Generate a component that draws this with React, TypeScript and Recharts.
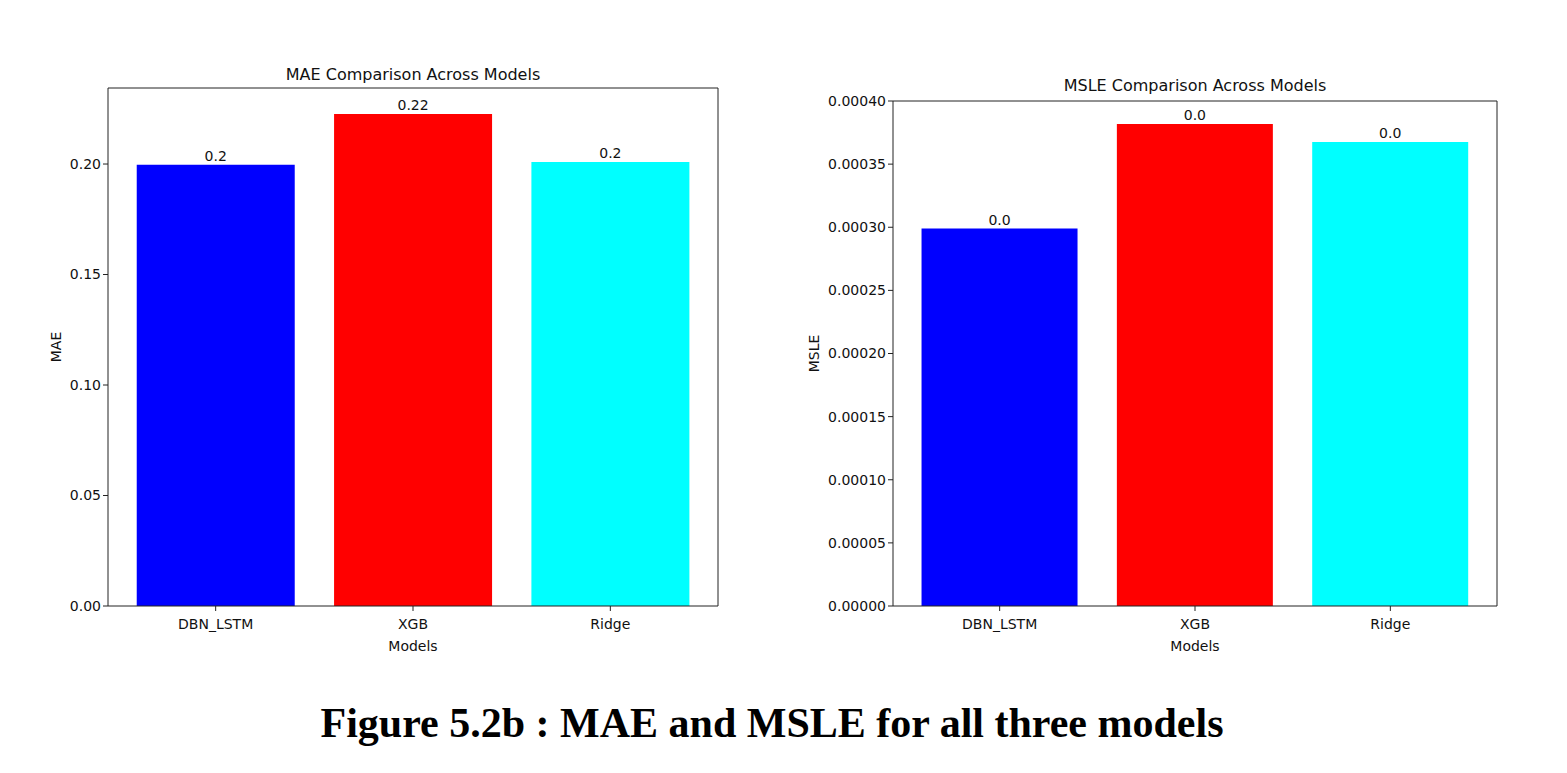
import React from 'react';
import { BarChart, Bar, XAxis, YAxis, Cell, LabelList, Label, CartesianGrid } from 'recharts';

const models = ['DBN_LSTM', 'XGB', 'Ridge'];
const maeValues = [0.1997, 0.2226, 0.2009];
const msleValues = [0.000299, 0.0003818, 0.0003675];
const maeTicks = [0, 0.05, 0.1, 0.15, 0.2];
const msleTicks = [0, 0.00005, 0.0001, 0.00015, 0.0002, 0.00025, 0.0003, 0.00035, 0.0004];
const barColors = ['#0000ff', '#ff0000', '#00ffff'];

const FONT = 'DejaVu Sans, sans-serif';
const INK = '#111';

const maeData = models.map((name, i) => ({ name, value: maeValues[i] }));
const msleData = models.map((name, i) => ({ name, value: msleValues[i] }));

// python-ish str(round(v, 2))
const fmtBar = (v: any) => {
  const r = Math.round(Number(v) * 100) / 100;
  return Number.isInteger(r) ? r.toFixed(1) : String(r);
};

interface PanelProps {
  data: { name: string; value: number }[];
  title: string;
  titleGap: number;
  yLabel: string;
  ticks: number[];
  domain: [number, number];
  digits: number;
  left: number;
  top: number;
  marginLeft: number;
  yWidth: number;
  yLabelDx: number;
}

const CHART_W = 760;
const MARGIN_R = 42;

const Panel: React.FC<PanelProps> = ({ data, title, titleGap, yLabel, ticks, domain, digits, left, top, marginLeft, yWidth, yLabelDx }) => {
  const plotLeft = marginLeft + yWidth;
  const plotRight = CHART_W - MARGIN_R;
  return (
    <div style={{ position: 'absolute', left, top: 0 }}>
      <div style={{
        position: 'absolute', left: plotLeft, width: plotRight - plotLeft, top: top - titleGap, height: 20,
        textAlign: 'center', fontFamily: FONT, fontSize: 16, color: INK, lineHeight: '20px', whiteSpace: 'nowrap',
      }}>
        {title}
      </div>
      <BarChart
        width={CHART_W}
        height={680}
        data={data}
        margin={{ top, right: MARGIN_R, left: marginLeft, bottom: 26 }}
        barCategoryGap="10%"
      >
        {/* closes the box: top and right spines */}
        <CartesianGrid
          stroke="#222"
          horizontalCoordinatesGenerator={({ offset }: any) => [offset.top]}
          verticalCoordinatesGenerator={({ offset }: any) => [offset.left + offset.width]}
        />
        <XAxis
          dataKey="name"
          padding={{ left: 9, right: 9 }}
          height={48}
          stroke="#222"
          tickSize={5}
          tickMargin={8}
          tick={{ fill: INK, fontSize: 14, fontFamily: FONT }}
        >
          <Label
            content={({ viewBox }: any) => (
              <text x={viewBox.x + viewBox.width / 2} y={viewBox.y + 41} textAnchor="middle" dominantBaseline="middle"
                fontSize={14} fontFamily={FONT} fill={INK}>Models</text>
            )}
          />
        </XAxis>
        <YAxis
          type="number"
          domain={domain}
          ticks={ticks}
          interval={0}
          width={yWidth}
          stroke="#222"
          tickSize={5}
          tickFormatter={(v: number) => v.toFixed(digits)}
          tick={{ fill: INK, fontSize: 14, fontFamily: FONT }}
        >
          <Label
            content={({ viewBox }: any) => {
              const x = viewBox.x + yLabelDx;
              const y = viewBox.y + viewBox.height / 2;
              return (
                <text x={x} y={y} transform={`rotate(-90, ${x}, ${y})`} textAnchor="middle" dominantBaseline="middle"
                  fontSize={14} fontFamily={FONT} fill={INK}>{yLabel}</text>
              );
            }}
          />
        </YAxis>
        <Bar dataKey="value" isAnimationActive={false}>
          {data.map((d, i) => (
            <Cell key={d.name} fill={barColors[i % barColors.length]} />
          ))}
          <LabelList dataKey="value" position="top" offset={4} formatter={fmtBar}
            style={{ fill: INK, fontSize: 14, fontFamily: FONT }} />
        </Bar>
      </BarChart>
    </div>
  );
};

export default function App() {
  return (
    <div style={{ position: 'absolute', left: 0, top: 0, width: 1567, height: 773, background: '#fff' }}>
      <Panel data={maeData} title="MAE Comparison Across Models" titleGap={23} yLabel="MAE" ticks={maeTicks}
        domain={[0, 0.2344]} digits={2} left={0} top={88} marginLeft={48} yWidth={60} yLabelDx={9} />
      <Panel data={msleData} title="MSLE Comparison Across Models" titleGap={25} yLabel="MSLE" ticks={msleTicks}
        domain={[0, 0.0004]} digits={5} left={779} top={101} marginLeft={24} yWidth={90} yLabelDx={12} />
      <div style={{
        position: 'absolute', left: 0, top: 699, width: 1544, textAlign: 'center',
        fontFamily: '"Liberation Serif", "Times New Roman", serif', fontWeight: 'bold', fontSize: 42, color: '#000',
        lineHeight: '48px',
      }}>
        Figure 5.2b : MAE and MSLE for all three models
      </div>
    </div>
  );
}
